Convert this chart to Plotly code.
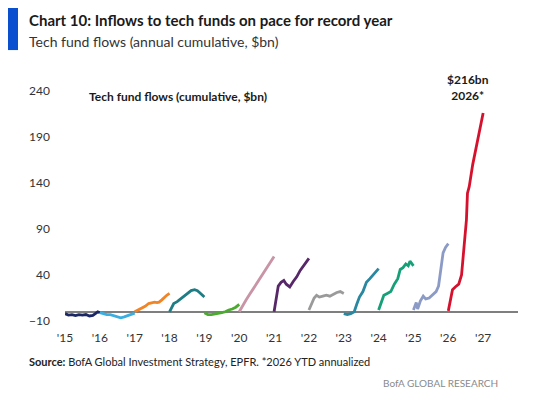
import plotly.graph_objects as go

# tech fund flows, cumulative within each year ($bn)
# pos = fraction of the year, val = cumulative flow
years = [2015, 2016, 2017, 2018, 2019, 2020, 2021, 2022, 2023, 2024, 2025, 2026]

colors = ['#1c2765', '#3aaee0', '#f08426', '#1e7c84', '#4bab2f', '#c994a6',
          '#572868', '#9a9a9a', '#2a87a0', '#16a077', '#8c9bc6', '#d6112d']

pos_2015 = [0, 0.1, 0.2, 0.3, 0.4, 0.5, 0.6, 0.7, 0.8, 0.88, 0.94, 1.0]
val_2015 = [-2, -3.5, -3, -4, -3, -3.5, -3, -4.5, -4, -2, 0, -1]

pos_2016 = [0, 0.1, 0.2, 0.3, 0.4, 0.5, 0.6, 0.7, 0.8, 0.9, 1.0]
val_2016 = [-1, -2, -3, -3, -4, -5, -6.5, -5.5, -4, -3, -1.5]

pos_2017 = [0, 0.1, 0.2, 0.3, 0.4, 0.5, 0.57, 0.64, 0.7, 0.78, 0.85, 0.92, 1.0]
val_2017 = [0, 2, 4, 6, 9, 10, 10.5, 10, 10.5, 13, 16, 18, 20]

pos_2018 = [0, 0.06, 0.12, 0.22, 0.32, 0.42, 0.53, 0.62, 0.72, 0.8, 0.86, 0.93, 1.0]
val_2018 = [0, 5, 9, 11, 14, 17, 21, 23, 24, 23, 21, 19, 16]

pos_2019 = [0, 0.1, 0.2, 0.3, 0.4, 0.5, 0.6, 0.7, 0.8, 0.9, 1.0]
val_2019 = [-1, -3, -3, -2.5, -2, -1, 0, 2, 3, 5, 8]

pos_2020 = [0, 0.1, 0.2, 0.3, 0.4, 0.5, 0.6, 0.7, 0.8, 0.9, 1.0]
val_2020 = [0, 7, 13, 19, 25, 31, 37, 43, 48, 54, 60]

pos_2021 = [0, 0.05, 0.12, 0.2, 0.28, 0.35, 0.45, 0.55, 0.65, 0.75, 0.85, 0.95, 1.0]
val_2021 = [0, 12, 28, 32, 34, 30, 27, 33, 38, 45, 50, 56, 58]

pos_2022 = [0, 0.08, 0.15, 0.22, 0.3, 0.4, 0.5, 0.6, 0.7, 0.8, 0.9, 1.0]
val_2022 = [2, 8, 15, 18, 16, 17, 18, 17, 19, 21, 22, 20]

pos_2023 = [0, 0.1, 0.2, 0.3, 0.37, 0.45, 0.55, 0.65, 0.75, 0.85, 0.95, 1.0]
val_2023 = [-2, -3, -2, 0, 8, 16, 22, 32, 36, 40, 45, 47]

pos_2024 = [0, 0.1, 0.15, 0.25, 0.35, 0.45, 0.55, 0.62, 0.7, 0.78, 0.85, 0.9, 0.95, 1.0]
val_2024 = [2, 12, 18, 20, 22, 30, 36, 46, 48, 52, 50, 55, 53, 50]

pos_2025 = [0, 0.08, 0.12, 0.2, 0.28, 0.35, 0.45, 0.55, 0.65, 0.72, 0.8, 0.85, 0.92, 1.0]
val_2025 = [2, 10, 3, 12, 17, 14, 15, 18, 22, 28, 50, 64, 70, 74]

pos_2026 = [0, 0.05, 0.12, 0.2, 0.3, 0.38, 0.42, 0.45, 0.52, 0.55, 0.6, 0.7, 0.8, 0.9, 1.0]
val_2026 = [1, 10, 24, 27, 30, 40, 59, 74, 100, 129, 136, 160, 180, 200, 216]

positions = [pos_2015, pos_2016, pos_2017, pos_2018, pos_2019, pos_2020,
             pos_2021, pos_2022, pos_2023, pos_2024, pos_2025, pos_2026]
values = [val_2015, val_2016, val_2017, val_2018, val_2019, val_2020,
          val_2021, val_2022, val_2023, val_2024, val_2025, val_2026]

tick_years = list(range(2015, 2028))
tick_labels = ["'" + str(y)[2:] for y in tick_years]
y_ticks = [-10, 40, 90, 140, 190, 240]

font = 'Lato'

fig = go.Figure()

for yr, p, v, c in zip(years, positions, values, colors):
    fig.add_trace(go.Scatter(x=[yr + f for f in p], y=v, mode='lines',
                             line=dict(color=c, width=2.8), name=str(yr),
                             showlegend=False))

# page body has an 8px margin, so the figure is shifted by that much
fig.update_layout(
    width=537, height=402,
    margin=dict(l=57, r=27, t=83, b=89),
    paper_bgcolor='white', plot_bgcolor='white',
    font=dict(family=font, color='#222222'),
    xaxis=dict(range=[2015, 2028], tickvals=tick_years, ticktext=tick_labels,
               showgrid=False, zeroline=False, showline=False, ticks='',
               tickfont=dict(size=12, color='#333333'), ticklabelstandoff=8),
    yaxis=dict(range=[-10, 240], tickvals=y_ticks, showgrid=False,
               zeroline=True, zerolinecolor='#7f7f7f', zerolinewidth=1.5,
               showline=False, ticks='',
               tickfont=dict(size=12, color='#333333'), ticklabelstandoff=14),
)

# blue side bar beside the title
fig.add_shape(type='rect', xref='paper', yref='paper',
              x0=-0.1258, x1=-0.1038, y0=1.178, y1=1.374,
              fillcolor='#0a4fd0', line_width=0)

fig.add_annotation(xref='paper', yref='paper', x=-0.0839, y=1.309,
                   xanchor='left', yanchor='middle', showarrow=False,
                   text='<b>Chart 10: Inflows to tech funds on pace for record year</b>',
                   font=dict(size=15, color='#1a1a1a'))
fig.add_annotation(xref='paper', yref='paper', x=-0.0839, y=1.217,
                   xanchor='left', yanchor='middle', showarrow=False,
                   text='Tech fund flows (annual cumulative, $bn)',
                   font=dict(size=14, color='#333333'))

fig.add_annotation(xref='paper', yref='paper', x=0.0486, y=0.974,
                   xanchor='left', yanchor='middle', showarrow=False,
                   text='<b>Tech fund flows (cumulative, $bn)</b>',
                   font=dict(size=12, color='#1a1a1a'))

fig.add_annotation(x=2027, y=216, xshift=-15, yshift=8,
                   xanchor='center', yanchor='bottom', showarrow=False,
                   text='<b>$216bn<br>2026*</b>',
                   font=dict(size=12, color='#1a1a1a'))

fig.add_annotation(xref='paper', yref='paper', x=-0.0839, y=-0.178,
                   xanchor='left', yanchor='middle', showarrow=False,
                   text='<b>Source:</b> BofA Global Investment Strategy, EPFR. *2026 YTD annualized',
                   font=dict(size=11, color='#222222'))
fig.add_annotation(xref='paper', yref='paper', x=0.960, y=-0.270,
                   xanchor='right', yanchor='middle', showarrow=False,
                   text='BofA GLOBAL RESEARCH',
                   font=dict(size=10, color='#8a8a8a'))

fig.write_html('out.html')
